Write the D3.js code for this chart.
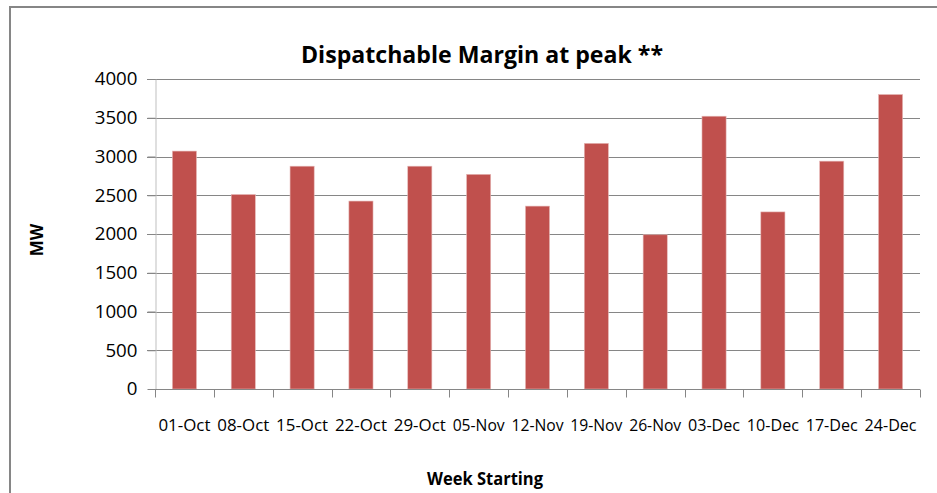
<!DOCTYPE html>
<html>
<head>
<meta charset="utf-8">
<script src="https://cdn.jsdelivr.net/npm/d3@7"></script>
<style>
    body { margin: 0; background: #fff; }
    #chart-view { width: 937px; height: 493px; }
    text { font-family: "Open Sans", "Liberation Sans", sans-serif; fill: #000; }
</style>
</head>
<body>
<div id="chart-view"></div>
<script>
var weeks = ["01-Oct", "08-Oct", "15-Oct", "22-Oct", "29-Oct", "05-Nov", "12-Nov",
             "19-Nov", "26-Nov", "03-Dec", "10-Dec", "17-Dec", "24-Dec"];
var margins = [3070, 2510, 2875, 2425, 2875, 2770, 2360, 3170, 1990, 3520, 2285, 2940, 3800];
var yTicks = [0, 500, 1000, 1500, 2000, 2500, 3000, 3500, 4000];
var titleText = "Dispatchable Margin at peak **";
var xTitle = "Week Starting";
var yTitle = "MW";

var svg;
var x;
var y;

function drawChart() {
    const width = 937;
    const height = 493;
    const margin = { top: 79, right: 17, bottom: 104, left: 155 };

    svg = d3.select("#chart-view").append("svg")
        .attr("width", width)
        .attr("height", height);

    // outer chart frame, runs off the right and bottom
    svg.append("rect")
        .attr("x", 10)
        .attr("y", 7)
        .attr("width", width + 20)
        .attr("height", height + 20)
        .attr("fill", "none")
        .attr("stroke", "#868686")
        .attr("stroke-width", 2);

    x = d3.scaleBand()
        .domain(weeks)
        .range([margin.left, width - margin.right])
        .paddingInner(0.59)
        .paddingOuter(0.295);

    y = d3.scaleLinear()
        .domain([0, 4000])
        .range([height - margin.bottom, margin.top]);

    // gridlines
    svg.append("g")
        .selectAll("line")
        .data(yTicks.filter(d => d > 0))
        .join("line")
        .attr("x1", margin.left - 8)
        .attr("x2", width - margin.right)
        .attr("y1", d => Math.round(y(d)) + 0.5)
        .attr("y2", d => Math.round(y(d)) + 0.5)
        .attr("stroke", "#868686");

    // y axis
    const yAxis = d3.axisLeft(y)
        .tickValues(yTicks)
        .tickFormat(d3.format("d"))
        .tickSize(8)
        .tickSizeOuter(0)
        .tickPadding(10);
    const gy = svg.append("g")
        .attr("transform", `translate(${margin.left + 0.5},0)`)
        .call(yAxis);
    gy.select(".domain").attr("stroke", "#bfbfbf");
    gy.selectAll(".tick line").attr("stroke", "#868686");
    gy.selectAll("text")
        .style("font-size", "18px")
        .attr("fill", "#000")
        .attr("textLength", d => String(d).length * 10.7)
        .attr("lengthAdjust", "spacingAndGlyphs");

    // bars
    svg.append("g")
        .selectAll("rect")
        .data(margins)
        .join("rect")
        .attr("x", (d, i) => x(weeks[i]))
        .attr("y", d => y(d))
        .attr("width", x.bandwidth())
        .attr("height", d => y(0) - y(d))
        .attr("fill", "#C0504D")
        .attr("stroke", "#e6b9b8")
        .attr("stroke-width", 0.6);

    // x axis with ticks at category boundaries
    const zeroY = Math.round(y(0)) + 0.5;
    const left = margin.left;
    const bounds = d3.range(weeks.length + 1).map(i => left + i * (width - margin.right - left) / weeks.length);
    svg.append("line")
        .attr("x1", left)
        .attr("x2", width - margin.right)
        .attr("y1", zeroY)
        .attr("y2", zeroY)
        .attr("stroke", "#868686")
        .attr("stroke-width", 1.2);
    svg.append("g")
        .selectAll("line")
        .data(bounds)
        .join("line")
        .attr("x1", d => Math.round(d) + 0.5)
        .attr("x2", d => Math.round(d) + 0.5)
        .attr("y1", zeroY)
        .attr("y2", zeroY + 8)
        .attr("stroke", "#868686");
    svg.append("g")
        .selectAll("text")
        .data(weeks)
        .join("text")
        .attr("x", d => x(d) + x.bandwidth() / 2)
        .attr("y", zeroY + 41)
        .attr("text-anchor", "middle")
        .style("font-size", "16px")
        .attr("textLength", 52)
        .attr("lengthAdjust", "spacingAndGlyphs")
        .text(d => d);

    // titles
    svg.append("text")
        .attr("x", 482)
        .attr("y", 63)
        .attr("text-anchor", "middle")
        .style("font-size", "24px")
        .style("font-weight", "bold")
        .attr("textLength", 362)
        .attr("lengthAdjust", "spacingAndGlyphs")
        .text(titleText);

    svg.append("text")
        .attr("x", 485)
        .attr("y", 485)
        .attr("text-anchor", "middle")
        .style("font-size", "18px")
        .style("font-weight", "bold")
        .attr("textLength", 116)
        .attr("lengthAdjust", "spacingAndGlyphs")
        .text(xTitle);

    svg.append("text")
        .attr("transform", "translate(43,240) rotate(-90)")
        .attr("text-anchor", "middle")
        .style("font-size", "17px")
        .style("font-weight", "bold")
        .text(yTitle);
}

document.addEventListener("DOMContentLoaded", () => {
    drawChart();
});
</script>
</body>
</html>
